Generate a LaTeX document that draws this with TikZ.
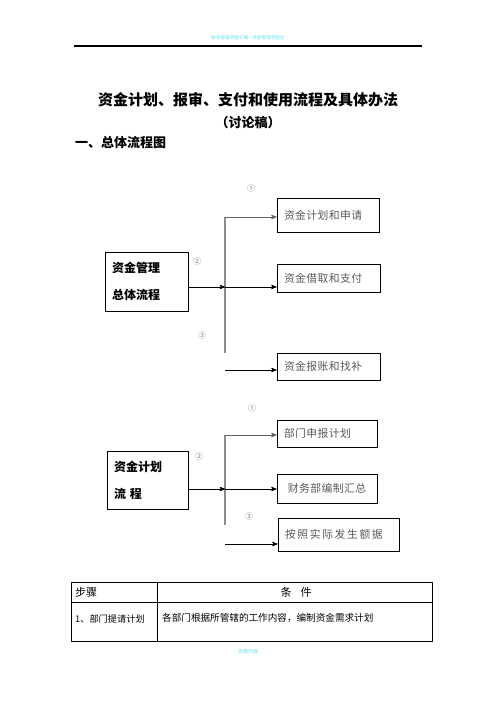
\documentclass[tikz,border=0pt]{standalone}
\usepackage{fontspec}
\setmainfont{Noto Sans CJK SC}
\usepackage{tikz}
\usetikzlibrary{arrows}

\definecolor{boxtext}{gray}{0.35}
\definecolor{barline}{gray}{0.55}
\definecolor{headcyan}{RGB}{90,225,240}

\begin{document}
\begin{tikzpicture}[x=1pt,y=-1pt,>=stealth',
    box/.style={draw,line width=0.9pt,text=boxtext,inner xsep=7pt,align=left,
      font=\fontsize{10.8}{12}\selectfont\addfontfeature{LetterSpace=4}},
    mainbox/.style={draw,line width=1pt,inner xsep=7pt,align=left,
      font=\bfseries\fontsize{12}{27}\selectfont},
    num/.style={text=gray,inner sep=0pt,font=\fontsize{8}{9}\selectfont},
    arr/.style={->,line width=0.9pt},
    bar/.style={draw=barline,line width=2pt},
    plain/.style={inner sep=0pt}]
    \useasboundingbox (0,0) rectangle (496,702);

    % header and title
    \node[plain,text=headcyan,font=\fontsize{4.6}{5}\selectfont] (kopf) at (248,38) {财务管理流程汇编—资金管理流程全};
    \coordinate (hl) at (74,46);
    \coordinate (hr) at (422,46);
    \draw[line width=1.1pt] (hl) -- (hr);
    \node[plain,font=\bfseries\fontsize{15}{18}\selectfont] (titel) at (248,100) {资金计划、报审、支付和使用流程及具体办法};
    \node[plain,font=\bfseries\fontsize{13}{16}\selectfont] (entwurf) at (248,123) {（讨论稿）};
    \node[plain,anchor=west,font=\bfseries\fontsize{13}{16}\selectfont] (teil1) at (75,143) {一、总体流程图};

    % first diagram
    \node[mainbox,text width=69pt,minimum height=59pt] (zjgl) at (146.5,281.5) {资金管理\\总体流程};
    \node[box,text width=88pt,minimum height=34pt] (jhsq) at (328,215) {资金计划和申请};
    \node[box,text width=89pt,minimum height=28pt] (jqzf) at (328.5,278) {资金借取和支付};
    \node[box,text width=89pt,minimum height=27pt] (bzzb) at (328.5,366.5) {资金报账和找补};
    \node[num] (n11) at (251,188) {①};
    \node[num] (n12) at (197,261) {②};
    \node[num] (n13) at (202,335) {③};
    \coordinate (t1) at (225,217);
    \coordinate (m1) at (225,287);
    \coordinate (e1) at (225,353);
    \coordinate (d1) at (225,370);
    \draw[bar] (t1) -- (e1);
    \draw[arr,barline!70!black] (t1) -- (t1 -| jhsq.west);
    \draw[arr] (m1 -| zjgl.east) -- (m1);
    \draw[arr] (m1) -- (m1 -| jqzf.west);
    \draw[arr] (d1) -- (d1 -| bzzb.west);

    % second diagram
    \node[mainbox,text width=67pt,minimum height=58pt] (zjjh) at (147.5,480) {资金计划\\流 程};
    \node[box,text width=86pt,minimum height=27pt] (sbjh) at (327,433.5) {部门申报计划};
    \node[box,text width=86pt,minimum height=29pt,align=center] (bzhz) at (327,488.5) {财务部编制汇总};
    \node[box,text width=107pt,minimum height=33pt,
      font=\fontsize{10.8}{12}\selectfont\addfontfeature{LetterSpace=15}] (fsej) at (338.5,534.5) {按照实际发生额据};
    \node[num] (n21) at (252,408) {①};
    \node[num] (n22) at (199,456) {②};
    \node[num] (n23) at (249,516) {③};
    \coordinate (t2) at (225,435);
    \coordinate (m2) at (225,489);
    \coordinate (e2) at (225,525);
    \coordinate (d2) at (225,544);
    \draw[bar] (t2) -- (e2);
    \draw[arr,barline!70!black] (t2) -- (t2 -| sbjh.west);
    \draw[arr] (m2 -| zjjh.east) -- (m2);
    \draw[arr] (m2) -- (m2 -| bzhz.west);
    \draw[arr] (d2) -- (d2 -| fsej.west);

    % table
    \coordinate (tl) at (71,582);
    \coordinate (br) at (432,641);
    \draw[line width=1pt] (tl) rectangle (br);
    \draw[line width=0.8pt] (157,582) -- (157,641);
    \draw[line width=0.8pt] (71,602) -- (432,602);
    \node[plain,anchor=west,font=\fontsize{11}{13}\selectfont] (buzhou) at (75,592) {步骤};
    \node[plain,font=\fontsize{11}{13}\selectfont] (tiaojian) at (296,592) {条\hspace{9pt}件};
    \node[plain,anchor=west,font=\fontsize{9.2}{11}\selectfont] (schritt1) at (75,619) {1、部门提请计划};
    \node[plain,anchor=west,font=\fontsize{9.6}{11}\selectfont] (bed1) at (162,618) {各部门根据所管辖的工作内容，编制资金需求计划};

    % footer
    \node[plain,text=headcyan,font=\fontsize{5}{6}\selectfont] (fuss) at (248,652) {页脚内容};
\end{tikzpicture}
\end{document}
